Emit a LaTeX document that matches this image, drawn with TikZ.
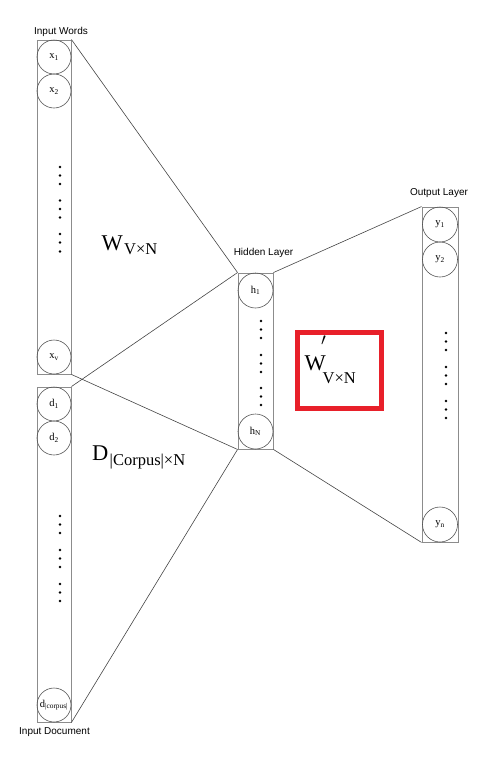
\documentclass[tikz,border=0pt]{standalone}
\usepackage{fontspec}
\setmainfont{Liberation Serif}
\newfontfamily\lblfont{Liberation Sans}
\definecolor{boxgray}{HTML}{8C8C8C}
\definecolor{circgray}{HTML}{555555}
\definecolor{linegray}{HTML}{444444}
\definecolor{hired}{HTML}{E8202A}
\begin{document}
\begin{tikzpicture}[x=1pt,y=-1pt,
  colbox/.style={draw=boxgray,line width=0.9pt,inner sep=0pt,minimum width=34pt},
  unit/.style={draw=circgray,line width=0.6pt,circle,inner sep=0pt,minimum size=34pt,font=\fontsize{10.5}{12}\selectfont},
  conn/.style={draw=linegray,line width=0.6pt},
  laytxt/.style={font=\lblfont\fontsize{10}{12}\selectfont,inner sep=0pt},
  bigl/.style={font=\fontsize{22.5}{24}\selectfont,inner sep=0pt,anchor=base west},
  subl/.style={font=\fontsize{16.5}{18}\selectfont,inner sep=0pt,anchor=base west},
  dotf/.style={fill=black}]
\useasboundingbox (0,0) rectangle (487,761);
% columns
\node[colbox,minimum height=334pt] (X) at (54,207) {};
\node[colbox,minimum height=335pt] (D) at (54,554.5) {};
\node[colbox,minimum width=35pt,minimum height=176pt] (H) at (255.5,361) {};
\node[colbox,minimum width=36pt,minimum height=335pt] (O) at (440,374.5) {};
% units
\node[unit] (x1) at (54,57) {x\textsubscript{1}};
\node[unit] (x2) at (54,91) {x\textsubscript{2}};
\node[unit] (xv) at (54,357) {x\textsubscript{v}};
\node[unit] (d1) at (54,404) {d\textsubscript{1}};
\node[unit] (d2) at (54,438) {d\textsubscript{2}};
\node[unit] (dc) at (54,705) {d\textsubscript{|corpus|}};
\node[unit,minimum size=35pt] (h1) at (255.5,290.5) {h\textsubscript{1}};
\node[unit,minimum size=35pt] (hN) at (255.5,431.5) {h\textsubscript{N}};
\node[unit,minimum size=35pt] (y1) at (440,224.5) {y\textsubscript{1}};
\node[unit,minimum size=35pt] (y2) at (440,259.5) {y\textsubscript{2}};
\node[unit,minimum size=35pt] (yn) at (440,524.5) {y\textsubscript{n}};
% dots
\foreach \y in {167,175.5,184,200.5,209,217.5,234,242.5,251.5} \fill[dotf] (60,\y) circle (1.3pt);
\foreach \y in {516,524.5,533,550,558.5,567,584,592.5,601} \fill[dotf] (60,\y) circle (1.3pt);
\foreach \y in {321,329.5,338,355,363.5,372,388,396.5,405} \fill[dotf] (261,\y) circle (1.3pt);
\foreach \y in {333,341.5,350,367,375.5,384,401,409.5,418} \fill[dotf] (446,\y) circle (1.3pt);
% connectors
\draw[conn] (X.north east) -- (H.north west);
\draw[conn] (X.south east) -- (H.south west);
\draw[conn] (D.north east) -- (H.north west);
\draw[conn] (D.south east) -- (H.south west);
\draw[conn] (H.north east) -- (O.north west);
\draw[conn] (H.south east) -- (O.south west);
% layer labels
\node[laytxt] (lin) at (61,32) {Input Words};
\node[laytxt] (ldoc) at (54.5,732) {Input Document};
\node[laytxt] (lhid) at (263.5,253) {Hidden Layer};
\node[laytxt] (lout) at (439,193) {Output Layer};
% weight labels
\node[bigl] (wW) at (101.5,250) {W};
\node[subl] (wWs) at (124,254.5) {V×N};
\node[bigl] (wD) at (92,460) {D};
\node[subl] (wDs) at (109.5,465) {|Corpus|×N};
\draw[hired,line width=5pt] (297.5,332.5) rectangle (381.5,408.5);
\node[bigl] (wP) at (304.5,370) {W};
\node[subl,font=\fontsize{17}{17}\selectfont] (wPp) at (321,345) {$\prime$};
\node[subl] (wPs) at (322.5,383) {V×N};
\end{tikzpicture}
\end{document}
